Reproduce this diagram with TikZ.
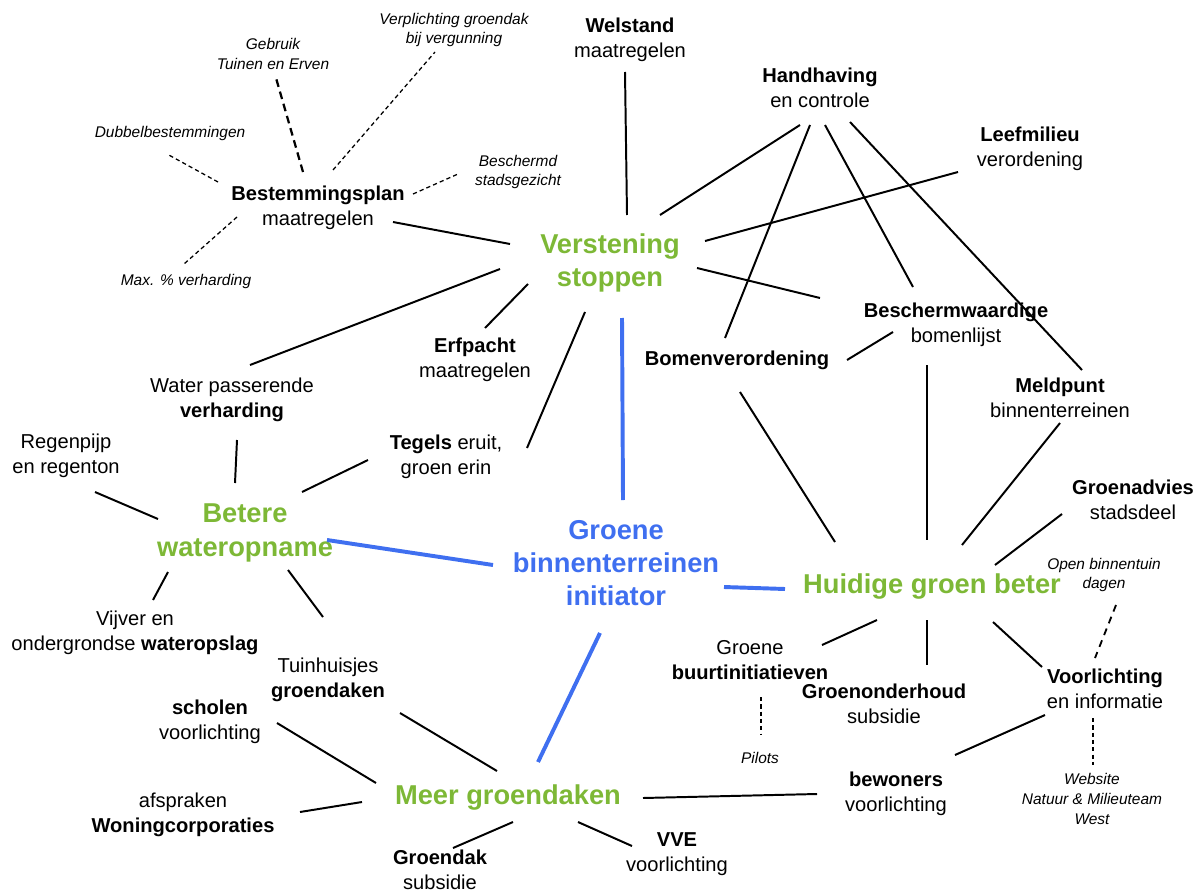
\documentclass[tikz,border=0pt]{standalone}
\usepackage{fontspec}
\setmainfont{Liberation Sans}
\usetikzlibrary{calc}
\definecolor{mapgreen}{RGB}{125,184,54}
\definecolor{mapblue}{RGB}{63,111,240}

\begin{document}
\begin{tikzpicture}[x=0.025cm,y=-0.025cm,
    topic/.style={font=\fontsize{19.4}{24}\selectfont\bfseries,text=mapgreen,align=center,inner sep=4pt},
    hub/.style={font=\fontsize{19.4}{23.5}\selectfont\bfseries,text=mapblue,align=center,inner sep=4pt},
    item/.style={font=\fontsize{14.3}{17.4}\selectfont,align=center,inner sep=4pt},
    note/.style={font=\fontsize{11}{14.2}\selectfont\itshape,align=center,inner sep=3pt},
    link/.style={line width=1.4pt},
    main/.style={line width=2.8pt,mapblue},
    hint/.style={line width=0.9pt,dash pattern=on 3pt off 2.2pt}]
    \useasboundingbox (0,0) rectangle (1201,893);

    % the five themes
    \node[hub]   (init) at (616,563) {Groene\\binnenterreinen\\initiator};
    \node[topic] (stop) at (610,263) {Verstening\\stoppen};
    \node[topic] (water) at (245,533) {Betere\\wateropname};
    \node[topic] (beter) at (932,586) {Huidige groen beter};
    \node[topic] (daken) at (508,797) {Meer groendaken};

    % measures
    \node[item] (welstand) at (630,40) {\textbf{Welstand}\\maatregelen};
    \node[item] (hand) at (820,88) {\textbf{Handhaving}\\en controle};
    \node[item] (leef) at (1030,149) {\textbf{Leefmilieu}\\verordening};
    \node[item] (bestem) at (318,208) {\textbf{Bestemmingsplan}\\maatregelen};
    \node[item] (lijst) at (956,325) {\textbf{Beschermwaardige}\\bomenlijst};
    \node[item] (bomen) at (737,360) {\textbf{Bomenverordening}};
    \node[item] (erfpacht) at (475,360) {\textbf{Erfpacht}\\maatregelen};
    \node[item] (verh) at (232,400) {Water passerende\\\textbf{verharding}};
    \node[item] (meld) at (1060,398) {\textbf{Meldpunt}\\binnenterreinen};
    \node[item] (regen) at (66,456) {Regenpijp\\en regenton};
    \node[item] (tegels) at (446,457) {\textbf{Tegels} eruit,\\groen erin};
    \node[item] (advies) at (1133,500) {\textbf{Groenadvies}\\stadsdeel};
    \node[item] (vijver) at (135,633) {Vijver en\\ondergrondse \textbf{wateropslag}};
    \node[item] (buurt) at (750,660) {Groene\\\textbf{buurtinitiatieven}};
    \node[item] (tuinhuis) at (328,680) {Tuinhuisjes\\\textbf{groendaken}};
    \node[item] (onderhoud) at (884,704) {\textbf{Groenonderhoud}\\subsidie};
    \node[item] (info) at (1105,689) {\textbf{Voorlichting}\\en informatie};
    \node[item] (scholen) at (210,722) {\textbf{scholen}\\voorlichting};
    \node[item] (bewoners) at (896,794) {\textbf{bewoners}\\voorlichting};
    \node[item] (corp) at (183,815) {afspraken\\\textbf{Woningcorporaties}};
    \node[item] (vve) at (677,854) {\textbf{VVE}\\voorlichting};
    \node[item] (subsidie) at (440,870) {\textbf{Groendak}\\subsidie};

    % notes
    \node[note] (gebruik) at (273,54) {Gebruik\\Tuinen en Erven};
    \node[note] (plicht) at (454,30) {Verplichting groendak\\bij vergunning};
    \node[note] (dubbel) at (170,134) {Dubbelbestemmingen};
    \node[note] (gezicht) at (518,172) {Beschermd\\stadsgezicht};
    \node[note] (max) at (186,281) {Max. \% verharding};
    \node[note] (open) at (1104,575) {Open binnentuin\\dagen};
    \node[note] (pilots) at (760,758) {Pilots};
    \node[note] (site) at (1092,799) {Website\\Natuur \& Milieuteam\\West};

    % initiator to themes
    \draw[main] ($(init)+(7,-63)$) -- ($(stop)+(12,55)$);
    \draw[main] ($(init)+(-123,2)$) -- ($(water)+(82,7)$);
    \draw[main] ($(init)+(108,24)$) -- ($(beter)+(-147,3)$);
    \draw[main] ($(init)+(-16,70)$) -- ($(daken)+(30,-35)$);

    % Verstening stoppen
    \draw[link] ($(bestem)+(75,14)$) -- ($(stop)+(-100,-19)$);
    \draw[link] ($(welstand)+(-5,32)$) -- ($(stop)+(17,-48)$);
    \draw[link] ($(hand)+(-20,37)$) -- ($(stop)+(50,-48)$);
    \draw[link] ($(leef)+(-72,23)$) -- ($(stop)+(95,-22)$);
    \draw[link] ($(stop)+(87,5)$) -- ($(lijst)+(-136,-27)$);
    \draw[link] ($(stop)+(-110,6)$) -- ($(verh)+(18,-35)$);
    \draw[link] ($(stop)+(-82,21)$) -- ($(erfpacht)+(10,-32)$);
    \draw[link] ($(stop)+(-25,49)$) -- ($(tegels)+(81,-9)$);
    \draw[link] ($(hand)+(-10,37)$) -- ($(bomen)+(-12,-22)$);
    \draw[link] ($(hand)+(5,37)$) -- ($(lijst)+(-43,-38)$);
    \draw[link] ($(hand)+(30,34)$) -- ($(meld)+(22,-28)$);
    \draw[link] ($(lijst)+(-63,7)$) -- ($(bomen)+(110,0)$);

    % Huidige groen beter
    \draw[link] ($(bomen)+(3,32)$) -- ($(beter)+(-97,-44)$);
    \draw[link] ($(lijst)+(-29,40)$) -- ($(beter)+(-5,-46)$);
    \draw[link] ($(meld)+(0,25)$) -- ($(beter)+(30,-41)$);
    \draw[link] ($(advies)+(-71,14)$) -- ($(beter)+(63,-21)$);
    \draw[link] ($(beter)+(-55,34)$) -- ($(buurt)+(72,-15)$);
    \draw[link] ($(beter)+(-5,34)$) -- ($(onderhoud)+(43,-39)$);
    \draw[link] ($(beter)+(61,36)$) -- ($(info)+(-63,-22)$);
    \draw[link] ($(info)+(-60,26)$) -- ($(bewoners)+(59,-39)$);

    % Betere wateropname
    \draw[link] ($(verh)+(5,40)$) -- ($(water)+(-10,-50)$);
    \draw[link] ($(regen)+(29,36)$) -- ($(water)+(-87,-14)$);
    \draw[link] ($(tegels)+(-78,3)$) -- ($(water)+(57,-41)$);
    \draw[link] ($(water)+(-77,39)$) -- ($(vijver)+(18,-33)$);
    \draw[link] ($(water)+(43,37)$) -- ($(tuinhuis)+(-5,-63)$);

    % Meer groendaken
    \draw[link] ($(tuinhuis)+(72,33)$) -- ($(daken)+(-11,-26)$);
    \draw[link] ($(scholen)+(67,1)$) -- ($(daken)+(-132,-14)$);
    \draw[link] ($(corp)+(117,-3)$) -- ($(daken)+(-146,5)$);
    \draw[link] ($(bewoners)+(-79,0)$) -- ($(daken)+(135,1)$);
    \draw[link] ($(daken)+(5,25)$) -- ($(subsidie)+(13,-22)$);
    \draw[link] ($(daken)+(70,25)$) -- ($(vve)+(-45,-8)$);

    % dashed notes
    \draw[hint,line width=1.6pt,dash pattern=on 5.5pt off 3.5pt] ($(bestem)+(-15,-36)$) -- ($(gebruik)+(3,24)$);
    \draw[hint] ($(bestem)+(15,-38)$) -- ($(plicht)+(-19,22)$);
    \draw[hint] ($(bestem)+(-100,-26)$) -- ($(dubbel)+(-3,20)$);
    \draw[hint] ($(bestem)+(95,-14)$) -- ($(gezicht)+(-60,2)$);
    \draw[hint] ($(bestem)+(-81,9)$) -- ($(max)+(-2,-17)$);
    \draw[hint,line width=1.3pt,dash pattern=on 5pt off 4pt] ($(open)+(12,30)$) -- ($(info)+(-10,-31)$);
    \draw[hint] ($(info)+(-12,29)$) -- ($(site)+(1,-34)$);
    \draw[hint] ($(buurt)+(11,37)$) -- ($(pilots)+(1,-24)$);
\end{tikzpicture}
\end{document}
